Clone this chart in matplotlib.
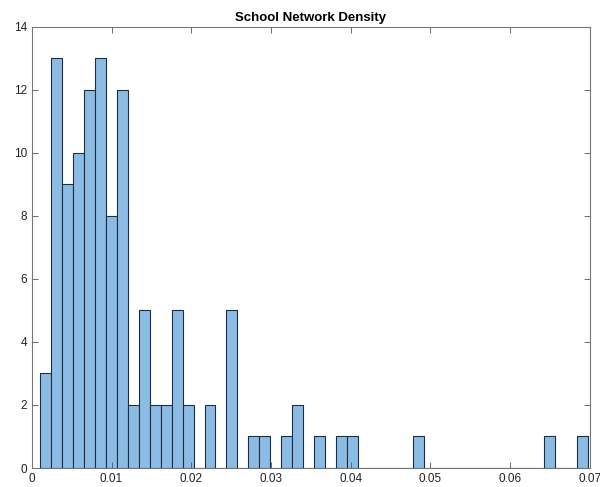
import numpy as np
import matplotlib
matplotlib.use("Agg")
import matplotlib.pyplot as plt

plt.rcParams['font.family'] = ['Liberation Sans', 'DejaVu Sans']

# histogram of school network density, 50 bins (counts)
bin_start = 0.00104
bin_width = 0.001375
counts = [3, 13, 9, 10, 12, 13, 8, 12, 2, 5,
          2, 2, 5, 2, 0, 2, 0, 5, 0, 1,
          1, 0, 1, 2, 0, 1, 0, 1, 1, 0,
          0, 0, 0, 0, 1, 0, 0, 0, 0, 0,
          0, 0, 0, 0, 0, 0, 1, 0, 0, 1]
xticks = [0, 0.01, 0.02, 0.03, 0.04, 0.05, 0.06, 0.07]
xticklabels = ["0", "0.01", "0.02", "0.03", "0.04", "0.05", "0.06", "0.07"]
yticks = [0, 2, 4, 6, 8, 10, 12, 14]

edges = bin_start + bin_width * np.arange(len(counts) + 1)

fig = plt.figure(figsize=(6, 4.87), dpi=100)
ax = fig.add_axes([0.053, 0.039, 0.93, 0.906])

ax.hist(edges[:-1], bins=edges, weights=counts,
        color="#8cbce4", edgecolor="#1f2d44", linewidth=0.8)

ax.set_xlim(0, 0.07)
ax.set_ylim(0, 14)
ax.set_xticks(xticks)
ax.set_xticklabels(xticklabels)
ax.set_yticks(yticks)
ax.tick_params(direction="in", top=True, right=True, length=4,
               width=0.6, color="#555555", labelsize=8.5, labelcolor="#222222")
for s in ax.spines.values():
    s.set_color("#777777")
    s.set_linewidth(0.8)

ax.set_title("School Network Density", fontsize=9.5, fontweight="bold", pad=4)

fig.savefig("out.png", dpi=100)
